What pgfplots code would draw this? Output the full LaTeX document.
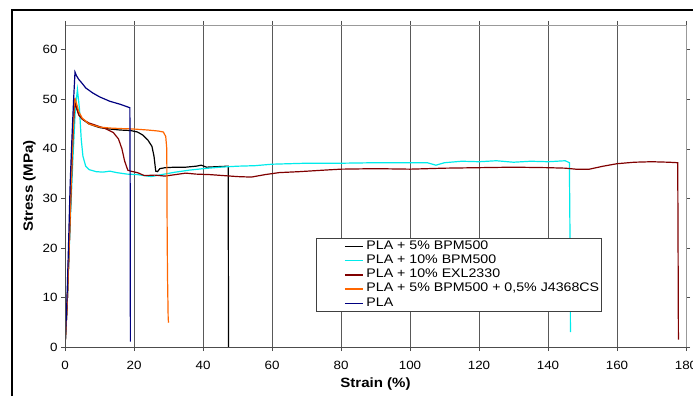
\documentclass[border=0pt]{standalone}
\usepackage{pgfplots}
\pgfplotsset{compat=1.18}
\usepackage{fontspec}
\setmainfont{Liberation Sans}[FakeStretch=1.12]
\newfontfamily\legfont{Liberation Sans}[FakeStretch=1.14]
\definecolor{navyc}{RGB}{0,0,128}
\definecolor{cyanc}{RGB}{0,235,235}
\definecolor{darkredc}{RGB}{128,0,0}
\definecolor{orangec}{RGB}{255,102,0}
\begin{document}
\begin{tikzpicture}[x=1bp,y=1bp]
\path[use as bounding box] (0,0) rectangle (693,396);
\draw[line width=2.4bp] (12,0) -- (12,386) -- (693,386);
\begin{axis}[name=ax, at={(65bp,49bp)}, anchor=south west, scale only axis,
  width=621bp, height=322bp,
  xmin=0, xmax=180, ymin=0, ymax=65,
  xtick={0,20,...,180}, ytick={0,10,...,60},
  tick align=outside, major tick length=4bp,
  tick style={black!70, line width=0.6bp},
  axis line style={draw=none},
  xmajorgrids, grid style={black!65, line width=0.8bp},
  font=\fontsize{12}{14}\selectfont,
  xticklabel style={yshift=-7bp},
  /pgf/number format/assume math mode=true,
  xlabel={\textbf{Strain (\%)}}, ylabel={\textbf{Stress (MPa)}},
  label style={font=\fontsize{13.5}{15}\selectfont},
  xlabel style={yshift=-1bp},
  legend cell align=left,
  legend style={at={(0.404,0.3385)}, anchor=north west, draw=black!75, line width=0.6bp,
    font=\legfont\fontsize{12.5}{14}\selectfont, inner xsep=2bp, inner ysep=1bp,
    nodes={inner sep=0pt, text height=10bp, text depth=4.2bp}},
  legend image code/.code={\path (-26bp,0); \draw[#1, line width=1.4bp] (0bp,0bp) -- (18bp,0bp); \path (21bp,0);},
  every axis plot/.append style={line width=1.2bp, mark=none},
]
\addplot[black] coordinates {(0,0) (0.6,8) (1.2,20) (1.8,33) (2.3,43) (2.8,49.3) (3.3,48.5) (4,47) (5,46) (7,45) (10,44.3) (13,44) (16,43.8) (19,43.7) (21,43.4) (22.5,42.8) (24,41.8) (25.2,40.5) (25.8,38.5) (26.3,35.5) (26.8,35.4) (27.5,36) (29,36.2) (32,36.3) (35,36.3) (38,36.5) (39.5,36.7) (41,36.3) (44,36.4) (47.3,36.5) (47.4,0)};
\addlegendentry{PLA + 5\% BPM500}
\addplot[cyanc] coordinates {(0,0) (0.7,10) (1.5,25) (2.3,38) (3,48) (3.6,52) (4.2,48) (4.7,42) (5.2,38.5) (6,36.5) (7,35.8) (9,35.4) (11,35.3) (13,35.5) (15,35.2) (18,34.9) (21,34.8) (25,34.4) (28,34.8) (32,35.3) (36,35.7) (40,36) (45,36.3) (50,36.5) (55,36.6) (60,36.9) (65,37) (70,37.1) (80,37.1) (90,37.2) (100,37.2) (105,37.2) (107.5,36.7) (110,37.2) (115,37.5) (120,37.4) (125,37.6) (130,37.3) (135,37.5) (140,37.4) (145,37.6) (146.2,37.2) (146.4,20) (146.5,3)};
\addlegendentry{PLA + 10\% BPM500}
\addplot[darkredc] coordinates {(0,0) (0.6,8) (1.2,20) (1.8,32) (2.3,42) (2.8,49.5) (3.2,48.5) (4,46.8) (5,46) (7,45.2) (10,44.5) (12,44) (14,43.3) (15.5,42) (16.5,40) (17.3,37.5) (18.2,35.7) (19,35.5) (21,35.2) (23,34.6) (26,34.7) (29,34.5) (32,34.8) (35,35.1) (38,34.9) (42,34.8) (46,34.6) (50,34.4) (54,34.3) (58,34.8) (62,35.2) (68,35.4) (75,35.7) (80,35.9) (90,36.0) (100,35.9) (110,36.1) (120,36.2) (130,36.3) (140,36.2) (145,36.1) (148,35.9) (152,35.9) (156,36.5) (160,37) (165,37.3) (170,37.4) (175,37.3) (177.6,37.2) (177.7,20) (177.8,1.5)};
\addlegendentry{PLA + 10\% EXL2330}
\addplot[orangec] coordinates {(0,0) (0.6,8) (1.2,20) (1.8,33) (2.3,43) (2.7,49.5) (3,50) (3.4,49) (4,47.5) (5,46.2) (7,45) (10,44.4) (13,44.2) (16,44.1) (20,44) (24,43.8) (27,43.6) (28.5,43.4) (29.2,42.5) (29.5,40) (29.6,25) (29.7,15) (29.9,6) (30,4.9)};
\addlegendentry{PLA + 5\% BPM500 + 0,5\% J4368CS}
\addplot[navyc] coordinates {(0,0) (0.5,8) (1,20) (1.5,33) (2,42) (2.5,50) (2.9,55.5) (3.3,54.8) (4,54) (5,53.2) (6,52.3) (8,51.3) (10,50.5) (13,49.6) (16,49) (18.8,48.3) (18.9,30) (18.95,1.1)};
\addlegendentry{PLA}
\end{axis}
\draw[black!40, line width=0.8bp] (ax.north west) -- (ax.north east) -- (ax.south east);
\draw[black!70, line width=0.8bp] (ax.north west) -- (ax.south west) -- (ax.south east);
\end{tikzpicture}
\end{document}
